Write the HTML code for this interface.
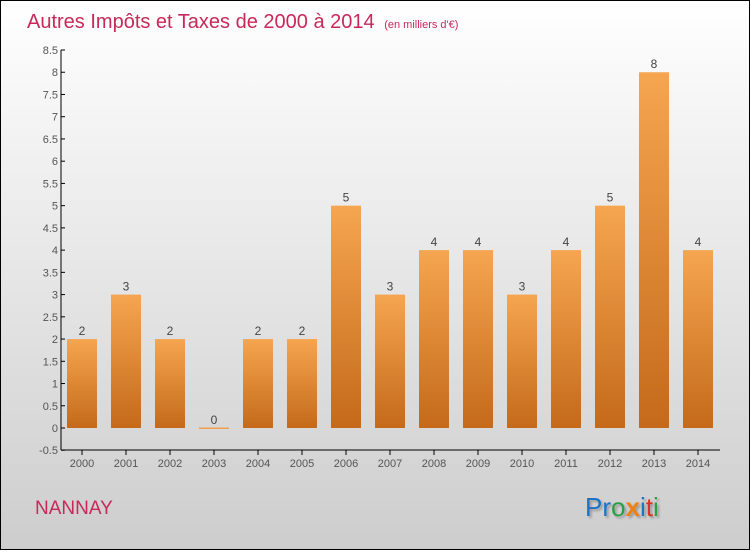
<!DOCTYPE html>
<html><head><meta charset="utf-8"><style>
body{margin:0;width:750px;height:550px;overflow:hidden;font-family:"Liberation Sans",sans-serif}
</style></head><body>
<svg width="750" height="550" xmlns="http://www.w3.org/2000/svg">
<defs>
<linearGradient id="bg" x1="0" y1="0" x2="0" y2="1"><stop offset="0" stop-color="#ffffff"/><stop offset="1" stop-color="#cdcdcd"/></linearGradient>
<linearGradient id="bar" x1="0" y1="0" x2="0" y2="1"><stop offset="0" stop-color="#f6a550"/><stop offset="1" stop-color="#c46a1a"/></linearGradient>
</defs>
<rect x="0.5" y="0.5" width="749" height="549" fill="url(#bg)" stroke="#000"/>
<text x="27" y="28" font-size="20" fill="#c8285a">Autres Impôts et Taxes de 2000 à 2014 <tspan font-size="11" dx="4">(en milliers d'€)</tspan></text>
<text x="35" y="514" font-size="19" fill="#c8285a">NANNAY</text>
<text x="585" y="516" font-size="26" style="text-shadow:2px 2px 2px #999"><tspan fill="#1a73c8">Pr</tspan><tspan fill="#2aa046">o</tspan><tspan fill="#f08010" font-weight="bold">x</tspan><tspan fill="#1a73c8">i</tspan><tspan fill="#e03020">t</tspan><tspan fill="#2aa046">i</tspan></text>
<g id="axes"></g><g id="bars"></g>
</svg>
<script>
const years=["2000","2001","2002","2003","2004","2005","2006","2007","2008","2009","2010","2011","2012","2013","2014"];
const values=[2,3,2,0,2,2,5,3,4,4,3,4,5,8,4];
const yTicks=[-0.5,0,0.5,1,1.5,2,2.5,3,3.5,4,4.5,5,5.5,6,6.5,7,7.5,8,8.5];
const NS="http://www.w3.org/2000/svg";
const y=v=>428-v*44.47;
const x=i=>82+i*44;
function mk(t,a,p,txt){const e=document.createElementNS(NS,t);for(const k in a)e.setAttribute(k,a[k]);if(txt!==undefined)e.textContent=txt;p.appendChild(e);return e;}
const ax=document.getElementById('axes'),bs=document.getElementById('bars');
const yl=mk('line',{x1:61,y1:50,x2:61,y2:450,stroke:'#000'},ax);


const xl=mk('line',{x1:61,y1:450,x2:720,y2:450,stroke:'#000'},ax);


yTicks.forEach(v=>{
  mk('line',{x1:61,y1:y(v),x2:65,y2:y(v),stroke:'#000'},ax);
  const t=mk('text',{x:58,y:y(v)+4,'font-size':11,fill:'#555','text-anchor':'end'},ax,String(v));
  
  
});
years.forEach((yr,i)=>{
  mk('line',{x1:x(i),y1:450,x2:x(i),y2:455,stroke:'#000'},ax);
  const t=mk('text',{x:x(i),y:467,'font-size':11,fill:'#555','text-anchor':'middle'},ax,yr);
  
  
  const v=values[i];
  const top=Math.min(y(v),y(0)), h=Math.max(Math.abs(y(0)-y(v)),1.5);
  const r=mk('rect',{x:x(i)-15,y:v===0?y(0)-0.5:top,width:30,height:h,fill:v===0?'#f0a050':'url(#bar)'},bs);
  
  
  const l=mk('text',{x:x(i),y:y(v)-4,'font-size':12,fill:'#444','text-anchor':'middle'},bs,String(v));
  
  
});
</script>
</body></html>
